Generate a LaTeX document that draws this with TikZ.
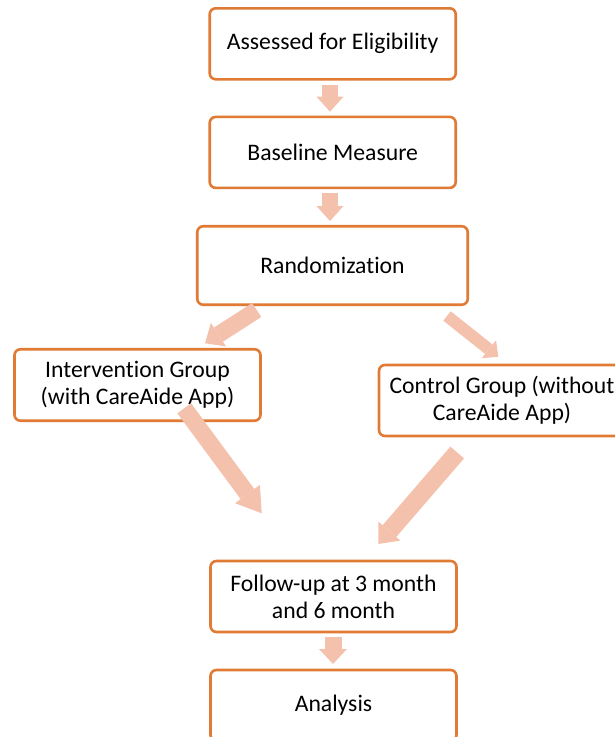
\documentclass[tikz,border=0pt]{standalone}
\usepackage{fontspec}
\setmainfont{Carlito}[Ligatures={NoCommon}]
\usetikzlibrary{arrows.meta}
\definecolor{boxc}{RGB}{224,122,52}
\definecolor{arrc}{RGB}{244,193,173}
\begin{document}
\begin{tikzpicture}[x=1pt,y=-1pt,
  box/.style={draw=boxc, line width=2.6pt, rounded corners=6pt, fill=white,
    minimum width=246pt, minimum height=71pt, inner sep=0pt, align=center,
    font=\fontsize{23.7}{27}\selectfont, text=black},
  barrow/.style n args={3}{draw=arrc, line width=#1pt,
    -{Triangle[width=#2pt,length=#3pt,line width=0pt]}}]
\useasboundingbox (0,0) rectangle (615,737);
\clip (0,0) rectangle (615,737);
\node[box] (b1) at (332.7,43.8) {Assessed for Eligibility};
\node[box] (b2) at (332.7,152.4) {Baseline Measure};
\node[box, minimum width=270.5pt, minimum height=78.5pt] (b3) at (332.5,265.5) {Randomization};
\node[box, minimum height=71.5pt] (int) at (137.5,385) {Intervention Group\\(with CareAide App)};
\node[box] (ctl) at (502,400.5) {Control Group (without\\CareAide App)};
\node[box] (fu) at (333.5,596.5) {Follow-up at 3 month\\and 6 month};
\node[box] (an) at (333.5,705.5) {Analysis};
\coordinate (v1s) at (330,85);   \coordinate (v1e) at (330,111.7);
\coordinate (v2s) at (330,193);  \coordinate (v2e) at (330,221);
\coordinate (a3s) at (256.7,310); \coordinate (a3e) at (205,343.3);
\coordinate (a4s) at (447,316);  \coordinate (a4e) at (498.3,356.7);
\coordinate (a5s) at (184.2,408.3); \coordinate (a5e) at (261.7,513.3);
\coordinate (a6s) at (457.2,452.5); \coordinate (a6e) at (378.3,544);
\coordinate (v3s) at (333,637);  \coordinate (v3e) at (333,664);
\draw[barrow={16.7}{27}{15}] (v1s) -- (v1e);
\draw[barrow={16.7}{27}{15}] (v2s) -- (v2e);
\draw[barrow={16.7}{28}{16}] (a3s) -- (a3e);
\draw[barrow={12}{23}{12}] (a4s) -- (a4e);
\draw[barrow={17}{31}{24}] (a5s) -- (a5e);
\draw[barrow={18}{29}{17}] (a6s) -- (a6e);
\draw[barrow={17}{28}{15}] (v3s) -- (v3e);
\end{tikzpicture}
\end{document}
